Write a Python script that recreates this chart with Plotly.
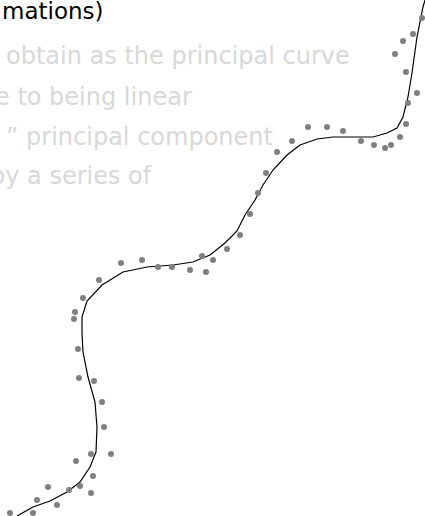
import plotly.graph_objects as go

pts_x = [422, 413, 403, 395, 406, 417, 408, 406, 308, 327, 343, 292, 361, 374, 385, 391, 400, 277, 266, 258,
         250, 240, 227, 202, 213, 121, 142, 158, 172, 190, 206, 99, 83, 75, 74, 78,
         79, 94, 102, 104, 91, 111, 76, 93, 48, 80, 69, 91, 37, 57, 10, 33]
pts_y = [18, 34, 41, 54, 72, 93, 103, 124, 127, 127, 131, 141, 141, 145, 148, 145, 137, 152, 173, 193,
         214, 235, 249, 256, 260, 263, 260, 267, 267, 270, 272, 280, 298, 312, 319, 349,
         378, 381, 402, 427, 454, 454, 461, 476, 487, 486, 490, 493, 500, 505, 513, 513]

# Principal curve (polyline)
curve_x = [17, 33, 50, 67, 80, 90, 96, 97, 95, 88, 83, 82, 82, 87, 102, 123, 147, 173, 193, 210, 225, 237,
           245, 255, 263, 273, 287, 300, 317, 333, 353, 373, 387, 397, 403, 408, 412, 417, 423, 425]
curve_y = [516, 507, 501, 492, 482, 467, 452, 427, 402, 377, 352, 333, 317, 301, 285, 272, 267, 265, 262, 255, 243, 231,
           215, 200, 185, 170, 155, 145, 139, 137, 137, 137, 133, 128, 117, 97, 73, 37, 7, 0]

title_text = "mations)"
body_lines = ["obtain as the principal curve", "e to being linear", "\u201d principal component", "by a series of"]
body_x = [4, -7, 4, -12]
body_baseline = [64, 105, 145, 184]

W, H = 425, 516

fig = go.Figure()
fig.add_trace(go.Scatter(x=curve_x, y=curve_y, mode="lines",
                         line=dict(color="black", width=1.2), hoverinfo="skip"))
fig.add_trace(go.Scatter(x=pts_x, y=pts_y, mode="markers",
                         marker=dict(color="#808080", size=6), hoverinfo="skip"))

font_family = "DejaVu Sans"
fig.add_annotation(x=0, y=1 - (19 - 8) / H, xref="paper", yref="paper", text=title_text, showarrow=False,
                   xanchor="left", yanchor="middle",
                   font=dict(family=font_family, size=23, color="black"))
for t, bx, by in zip(body_lines, body_x, body_baseline):
    fig.add_annotation(x=bx / W, y=1 - (by - 8) / H, xref="paper", yref="paper", text=t, showarrow=False,
                       xanchor="left", yanchor="middle",
                       font=dict(family=font_family, size=24, color="#d8d8d8"))

fig.update_layout(width=W, height=H, margin=dict(l=0, r=0, t=0, b=0),
                  paper_bgcolor="white", plot_bgcolor="white", showlegend=False,
                  xaxis=dict(range=[0, W], visible=False, fixedrange=True),
                  yaxis=dict(range=[H, 0], visible=False, fixedrange=True))
fig.write_html("out.html", config=dict(displayModeBar=False),
               post_script="document.body.style.margin='0';document.body.style.overflow='hidden';")
